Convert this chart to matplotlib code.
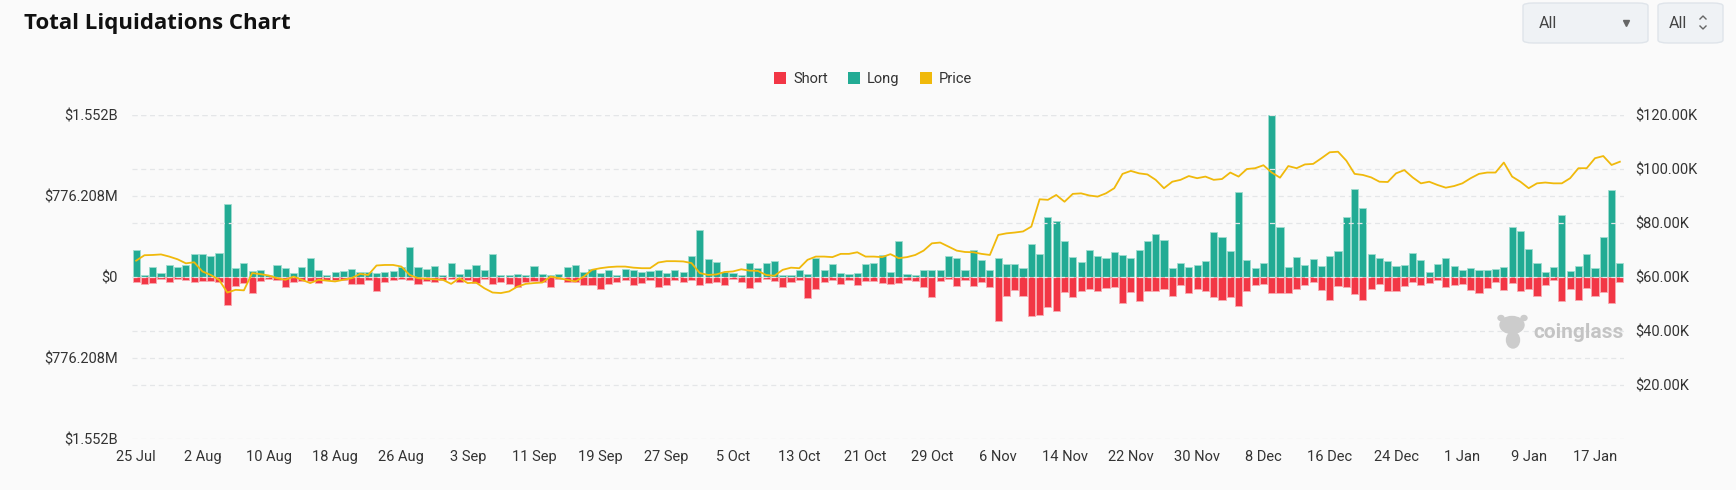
import numpy as np
import pandas as pd
import matplotlib.pyplot as plt
from matplotlib.patches import Patch, FancyBboxPatch, Ellipse
from matplotlib.lines import Line2D

plt.rcParams['font.family'] = ['Roboto', 'DejaVu Sans']

#%% data (liquidations in $M, price in $K), daily from 25 Jul

start_date = '2024-07-25'

long_m = [255, 22, 99, 35, 112, 99, 115, 214, 214, 195,
          233, 702, 86, 128, 54, 70, 22, 118, 83, 41,
          93, 179, 70, 16, 45, 54, 73, 45, 51, 35,
          48, 54, 99, 284, 99, 77, 102, 16, 137, 29,
          73, 118, 67, 220, 22, 19, 29, 22, 108, 29,
          22, 32, 99, 115, 51, 77, 38, 67, 22, 77,
          61, 45, 57, 61, 41, 67, 45, 198, 453, 175,
          140, 45, 38, 19, 137, 86, 137, 147, 22, 22,
          67, 32, 185, 70, 121, 38, 29, 35, 124, 128,
          207, 45, 348, 32, 22, 70, 64, 67, 195, 185,
          70, 258, 163, 70, 185, 121, 124, 89, 319, 220,
          577, 539, 341, 188, 144, 258, 201, 179, 239, 207,
          182, 255, 348, 415, 354, 80, 128, 93, 118, 150,
          434, 386, 252, 817, 166, 86, 131, 1552, 482, 96,
          188, 112, 175, 105, 198, 252, 577, 845, 657, 223,
          182, 150, 105, 112, 233, 163, 45, 121, 185, 108,
          61, 86, 67, 67, 77, 93, 482, 443, 262, 128,
          48, 99, 593, 57, 105, 214, 89, 380, 836, 131]

short_m = [45, 64, 57, 16, 54, 22, 32, 51, 38, 38,
           48, 268, 86, 57, 156, 38, 22, 32, 93, 48,
           38, 38, 61, 29, 32, 29, 64, 64, 29, 140,
           51, 29, 19, 29, 70, 38, 45, 29, 22, 45,
           26, 61, 19, 67, 51, 73, 99, 54, 38, 51,
           99, 19, 51, 45, 80, 80, 118, 70, 45, 32,
           80, 61, 32, 96, 80, 32, 45, 32, 80, 61,
           45, 77, 19, 51, 105, 51, 19, 38, 96, 51,
           32, 204, 121, 51, 32, 70, 26, 80, 41, 35,
           61, 70, 61, 32, 41, 96, 191, 41, 22, 83,
           29, 86, 48, 99, 424, 185, 128, 188, 376, 364,
           287, 325, 147, 191, 131, 115, 137, 108, 99, 252,
           147, 230, 140, 137, 112, 185, 77, 150, 118, 137,
           191, 226, 191, 278, 131, 80, 67, 153, 153, 153,
           118, 77, 48, 128, 226, 83, 96, 166, 223, 115,
           70, 137, 137, 86, 48, 80, 61, 29, 93, 80,
           67, 124, 150, 102, 48, 128, 57, 137, 112, 182,
           77, 32, 230, 118, 223, 108, 185, 147, 252, 48]

price_k = [66.0, 68.0, 68.1, 68.3, 67.5, 66.5, 65.0, 65.4, 62.0, 60.7,
           58.9, 54.2, 55.2, 55.0, 61.4, 61.0, 60.5, 59.5, 58.9, 60.1,
           58.9, 57.7, 58.9, 58.6, 58.3, 58.9, 59.5, 61.1, 60.7, 64.2,
           64.4, 64.4, 63.8, 60.7, 59.5, 59.3, 59.1, 58.9, 57.4, 59.5,
           57.7, 57.9, 55.8, 54.2, 54.0, 54.6, 56.4, 57.4, 57.7, 57.9,
           60.1, 59.5, 58.9, 58.3, 60.1, 62.6, 63.2, 63.6, 63.8, 63.8,
           63.4, 63.2, 63.2, 65.3, 65.8, 65.8, 65.7, 65.1, 61.4, 60.7,
           60.9, 61.8, 62.0, 62.8, 62.3, 62.2, 60.7, 60.4, 62.6, 63.4,
           63.2, 66.3, 67.5, 67.5, 67.3, 68.5, 68.5, 69.1, 67.5, 67.5,
           67.3, 68.4, 66.9, 67.3, 68.1, 69.7, 72.4, 72.7, 71.2, 69.7,
           69.2, 69.1, 68.5, 68.1, 75.5, 76.1, 76.4, 76.8, 78.6, 88.7,
           88.5, 90.3, 87.8, 90.7, 90.9, 90.1, 89.7, 90.9, 92.8, 98.1,
           99.2, 98.3, 97.9, 95.9, 92.8, 95.2, 95.9, 97.3, 96.5, 97.1,
           95.9, 96.2, 98.6, 97.1, 99.9, 100.2, 101.3, 98.6, 96.7, 101.0,
           100.2, 101.6, 101.8, 103.9, 106.1, 106.3, 103.0, 98.1, 97.7, 96.8,
           95.2, 95.1, 98.3, 99.5, 96.8, 94.6, 95.2, 94.0, 93.0, 93.6,
           94.6, 96.5, 98.1, 98.6, 98.6, 102.3, 97.1, 95.2, 92.8, 94.6,
           94.9, 94.6, 94.6, 96.5, 100.2, 100.2, 103.9, 104.7, 101.4, 102.6]

left_ticks = [-1552.416, -776.208, 0, 776.208, 1552.416]
left_labels = ['$1.552B', '$776.208M', '$0', '$776.208M', '$1.552B']
right_ticks = [20, 40, 60, 80, 100, 120]
right_labels = ['$20.00K', '$40.00K', '$60.00K', '$80.00K', '$100.00K', '$120.00K']

#%% styles
bg = '#fafafa'
c_short = '#f23645'
c_long = '#22ab94'
c_price = '#f0b90b'
c_grid = '#e4e6e8'
c_text = '#333333'

dates = pd.date_range(start_date, periods=len(long_m), freq='D')
x = np.arange(len(dates))

W, H = 1736, 490
fig = plt.figure(figsize=(W / 100, H / 100), dpi=100, facecolor=bg)

ax = fig.add_axes([132 / W, 1 - 439 / H, (1624 - 132) / W, (439 - 114.7) / H])
ax.set_facecolor(bg)

ax.bar(x, long_m, width=0.86, color=c_long, edgecolor='#9fdccf', linewidth=0.6, zorder=2)
ax.bar(x, [-v for v in short_m], width=0.86, color=c_short, edgecolor='#f8a9b0', linewidth=0.6, zorder=2)

ax.set_xlim(-0.5, len(x) - 0.5)
ax.set_ylim(left_ticks[0], left_ticks[-1])
ax.set_yticks(left_ticks)
ax.set_yticklabels(left_labels)
ax.yaxis.grid(True, color=c_grid, linestyle=(0, (4, 3)), linewidth=0.9, zorder=0)

xt = x[::8]
ax.set_xticks(xt)
ax.set_xticklabels([f'{d.day} {d.strftime("%b")}' for d in dates[::8]])

for s in ax.spines.values():
    s.set_visible(False)
ax.tick_params(axis='both', length=0, labelsize=10.5, colors=c_text)
ax.tick_params(axis='y', pad=10)
ax.tick_params(axis='x', pad=8)

ax2 = ax.twinx()
ax2.plot(x, price_k, color=c_price, linewidth=1.3, zorder=3)
ax2.set_ylim(0, 120)
ax2.set_yticks(right_ticks)
ax2.set_yticklabels(right_labels)
ax2.yaxis.grid(True, color=c_grid, linestyle=(0, (4, 3)), linewidth=0.9, zorder=0)
ax2.set_axisbelow(True)
ax.set_axisbelow(True)
for s in ax2.spines.values():
    s.set_visible(False)
ax2.tick_params(axis='y', length=0, labelsize=10.5, colors=c_text, pad=8)

# watermark
ax2.text(1533 / W, 1 - 332 / H, 'coinglass', transform=fig.transFigure, fontsize=15,
         fontweight='bold', color='#c4c4c4', ha='left', va='center')
logo = [((1512, 325), 24, 17), ((1513, 340), 13, 16), ((1501, 318), 6, 5), ((1524, 318), 6, 5)]
for (cx, cy), w, h in logo:
    fig.patches.append(Ellipse((cx / W, 1 - cy / H), w / W, h / H, transform=fig.transFigure,
                               color='#cccccc'))

# title
fig.text(24 / W, 1 - 24 / H, 'Total Liquidations Chart', fontsize=16, fontweight='bold',
         color='#111111', ha='left', va='center', family='Open Sans')

# legend
handles = [Patch(facecolor=c_short, label='Short'),
           Patch(facecolor=c_long, label='Long'),
           Patch(facecolor=c_price, label='Price')]
fig.legend(handles=handles, loc='center', bbox_to_anchor=(0.503, 1 - 79 / H), ncol=3,
           frameon=False, fontsize=10.5, handlelength=0.8, handleheight=0.8,
           handletextpad=0.5, columnspacing=1.4, labelcolor=c_text)

# dropdown boxes
for (x0, x1) in [(1523, 1648), (1658, 1723)]:
    fig.patches.append(FancyBboxPatch((x0 / W, 1 - 43 / H), (x1 - x0) / W, 40 / H,
                                      boxstyle='round,pad=0,rounding_size=0.006',
                                      transform=fig.transFigure, facecolor='#eff2f5',
                                      edgecolor='#dfe4ea', linewidth=1))
fig.text(1539 / W, 1 - 23 / H, 'All', fontsize=11.5, color='#444444', ha='left', va='center')
fig.text(1669 / W, 1 - 23 / H, 'All', fontsize=11.5, color='#444444', ha='left', va='center')
fig.lines.append(Line2D([1626 / W], [1 - 23 / H], marker='v', markersize=5, color='#666666',
                        transform=fig.transFigure))
fig.lines.append(Line2D([1700 / W, 1703 / W, 1706 / W], [1 - 19 / H, 1 - 16 / H, 1 - 19 / H],
                        color='#666666', linewidth=1, transform=fig.transFigure))
fig.lines.append(Line2D([1700 / W, 1703 / W, 1706 / W], [1 - 26 / H, 1 - 29 / H, 1 - 26 / H],
                        color='#666666', linewidth=1, transform=fig.transFigure))

fig.savefig('out.png', dpi=100, facecolor=bg)
